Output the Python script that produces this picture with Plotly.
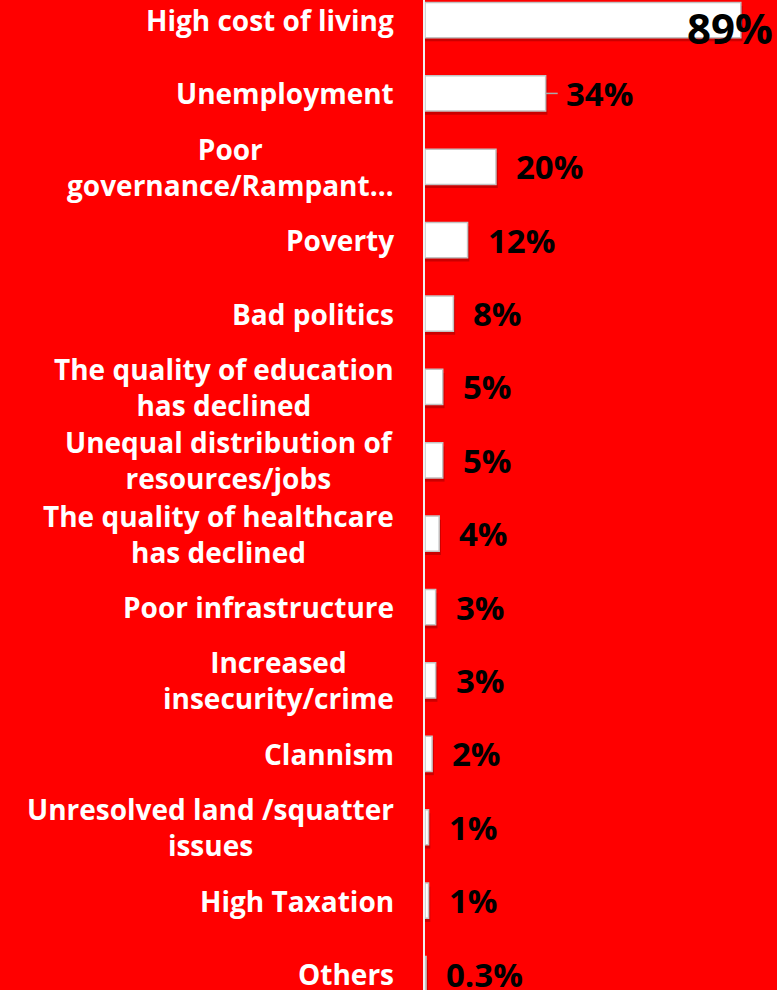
import plotly.graph_objects as go

# Reasons cited, most frequent first
categories = [
    "High cost of living",
    "Unemployment",
    "Poor<br>governance/Rampant…",
    "Poverty",
    "Bad politics",
    "The quality of education<br>has declined",
    "Unequal distribution of<br>resources/jobs",
    "The quality of healthcare<br>has declined",
    "Poor infrastructure",
    "Increased<br>insecurity/crime",
    "Clannism",
    "Unresolved land /squatter<br>issues",
    "High Taxation",
    "Others",
]
shares = [89, 34, 20, 12, 8, 5, 5, 4, 3, 3, 2, 1, 1, 0.3]
share_labels = ["89%", "34%", "20%", "12%", "8%", "5%", "5%", "4%", "3%", "3%",
                "2%", "1%", "1%", "0.3%"]

RED = "#FF0000"
FONT = "Open Sans"

fig = go.Figure()

# soft drop shadow under each bar
fig.add_trace(go.Bar(
    x=[v + 0.5 for v in shares], y=categories, orientation="h",
    width=0.48, offset=-0.19,
    marker=dict(color="rgba(140,0,0,0.45)", line=dict(width=0)),
    hoverinfo="skip", showlegend=False,
))

# white bars with a light grey bevel edge
fig.add_trace(go.Bar(
    x=shares, y=categories, orientation="h",
    width=0.48, offset=-0.24,
    marker=dict(color="white", line=dict(color="rgb(195,195,195)", width=1.5)),
    showlegend=False,
))

annotations = []
for i, (cat, lab) in enumerate(zip(categories, share_labels)):
    # category label, lines centred in a right-aligned block
    annotations.append(dict(
        x=0, xref="paper", y=cat, yref="y",
        xanchor="right", yanchor="middle", xshift=-29,
        text=f"<b>{cat}</b>", showarrow=False, align="center",
        font=dict(family=FONT, size=28, color="white"),
    ))
    # value label
    big = i == 0
    annotations.append(dict(
        x=shares[i], xref="x", y=cat, yref="y",
        xanchor="left", yanchor="middle",
        xshift=-56 if big else 18,
        yshift=-7 if big else 0,
        text=f"<b>{lab}</b>", showarrow=False,
        font=dict(family=FONT, size=42 if big else 33, color="black"),
    ))

# leader line from the Unemployment bar to its label
fig.add_shape(type="line", xref="x", yref="y",
              x0=shares[1], x1=shares[1] + 3.4, y0=1, y1=1,
              line=dict(color="rgb(170,170,170)", width=1.5))

fig.update_layout(
    width=777, height=990,
    margin=dict(l=425, r=0, t=0, b=0),
    paper_bgcolor=RED, plot_bgcolor=RED,
    barmode="overlay",
    annotations=annotations,
    xaxis=dict(range=[0, 99.2], visible=False),
    yaxis=dict(
        type="category", range=[13.218, -0.273],
        showticklabels=False, showgrid=False, zeroline=False,
        showline=True, linecolor="#f2f2f2", linewidth=2,
        ticks="",
    ),
)

fig.write_html("out.html")
